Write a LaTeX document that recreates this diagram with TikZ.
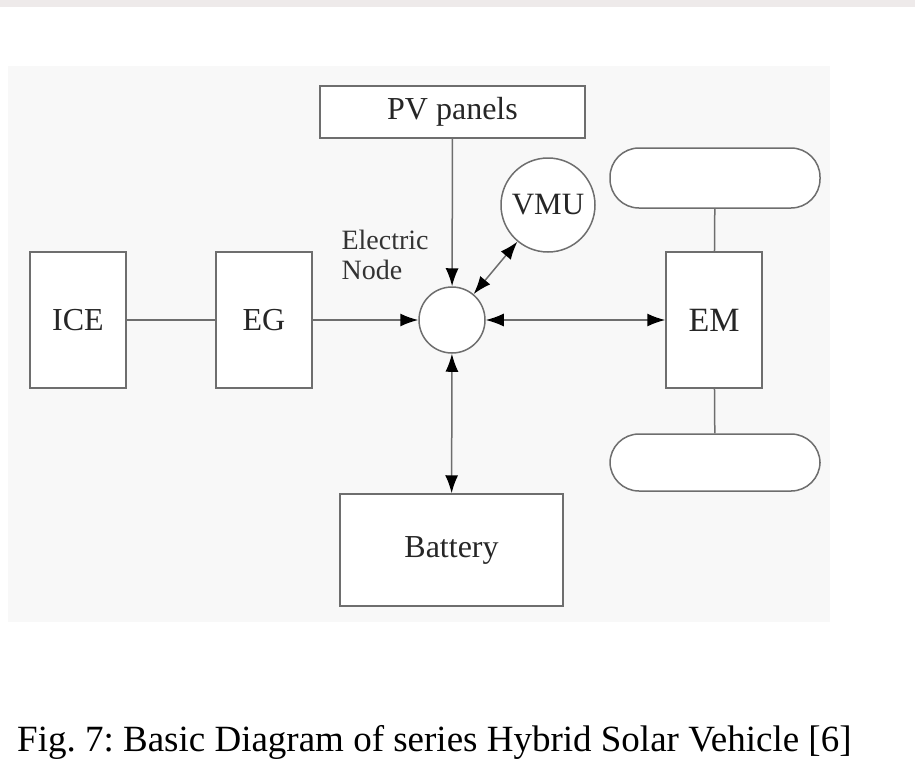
\documentclass[tikz,border=0pt]{standalone}
\usepackage{fontspec}
\setmainfont{Liberation Serif}
\usetikzlibrary{arrows.meta}
\definecolor{linegray}{HTML}{6E6E6E}
\definecolor{bggray}{HTML}{F8F8F8}
\definecolor{stripcol}{HTML}{EEEAEA}
\frenchspacing
\begin{document}
\begin{tikzpicture}[x=1pt,y=-1pt,
  lbl/.style={font=\fontsize{32}{38}\selectfont, text=black!85},
  blk/.style={draw=linegray, line width=1.5pt, fill=white, inner sep=0pt, lbl},
  tall/.style={blk, minimum width=96pt, minimum height=136pt},
  wheel/.style={draw=linegray, line width=1.5pt, fill=white, rounded corners=29pt, minimum width=210pt, inner sep=0pt},
  conn/.style={draw=linegray, line width=1.5pt},
  tip/.style={-{Latex[length=18pt,width=13pt,color=black]}},
  tips/.style={{Latex[length=18pt,width=13pt,color=black]}-{Latex[length=18pt,width=13pt,color=black]}}
]
\useasboundingbox (0,0) rectangle (915,764);
\fill[white] (0,0) rectangle (915,764);
\fill[stripcol] (0,0) rectangle (915,7);
\fill[bggray] (8,66) rectangle (830,622);

\node[blk, minimum width=265pt, minimum height=52pt] (pv) at (452.5,112) {PV panels};
\node[tall] (ice) at (78,320) {ICE};
\node[tall] (eg) at (264,320) {EG};
\node[tall] (em) at (714,320) {\fontsize{34}{40}\selectfont EM};
\node[blk, minimum width=223pt, minimum height=112pt] (bat) at (451.5,550) {Battery};
\node[draw=linegray, line width=1.5pt, fill=white, circle, minimum size=66pt, inner sep=0pt] (en) at (452,320) {};
\node[draw=linegray, line width=1.5pt, fill=white, circle, minimum size=94pt, inner sep=0pt, lbl, font=\fontsize{31}{36}\selectfont] (vmu) at (548,205) {VMU};
\node[wheel, minimum height=60pt] (wt) at (715,178) {};
\node[wheel, minimum height=57pt] (wb) at (715,462.5) {};
\node[font=\fontsize{28}{30}\selectfont, text=black!80, align=left, anchor=west] (enl) at (338,255) {Electric\\Node};

\draw[conn] (ice) -- (eg);
\draw[conn, tip] (eg) -- (en);
\draw[conn, tip] (pv) -- (en);
\draw[conn, tips] (en) -- (em);
\draw[conn, tips] (en) -- (bat);
\draw[conn, tips] (en) -- (vmu);
\draw[conn] (wt) -- (em);
\draw[conn] (em) -- (wb);

\node[font=\fontsize{37}{42}\selectfont, anchor=base west, inner sep=0pt] (cap) at (17,751) {Fig. 7: Basic Diagram of series Hybrid Solar Vehicle [6]};
\end{tikzpicture}
\end{document}
